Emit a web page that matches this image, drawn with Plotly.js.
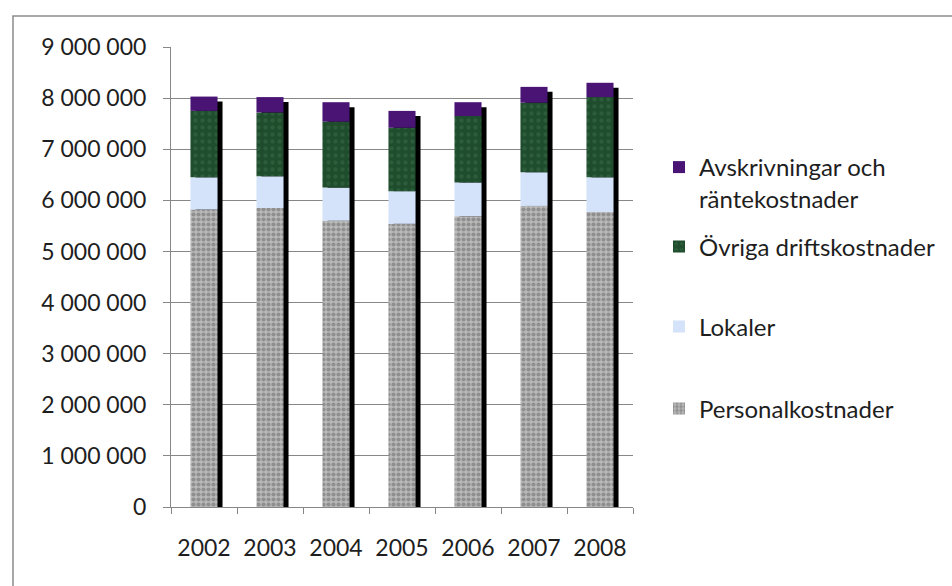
<!DOCTYPE html>
<html>
<head>
<meta charset="utf-8">
<script src="https://cdn.plot.ly/plotly-3.0.1.min.js"></script>
<style>
  html, body { margin: 0; padding: 0; background: #ffffff; }
  #chart { width: 952px; height: 586px; }
</style>
</head>
<body>
<div id="chart"></div>
<script>
// Kostnader per år (kr)
const years = ['2002', '2003', '2004', '2005', '2006', '2007', '2008'];
const personalkostnader = [5820000, 5850000, 5600000, 5540000, 5690000, 5890000, 5770000];
const lokaler = [630000, 620000, 650000, 640000, 660000, 660000, 680000];
const ovrigaDrift = [1300000, 1250000, 1290000, 1240000, 1300000, 1360000, 1570000];
const avskrivningar = [280000, 300000, 380000, 330000, 270000, 310000, 280000];

const seriesNames = ['Personalkostnader', 'Lokaler', 'Övriga driftskostnader', 'Avskrivningar och<br>räntekostnader'];

// Plot area geometry (px)
const W = 952, H = 586;
const M = { l: 171, r: 319, t: 47, b: 79 };
const plotW = W - M.l - M.r;
const plotH = H - M.t - M.b;
const yMax = 9000000;

const barWidth = 0.41;
const shadowDx = 5 / (plotW / years.length);   // category units
const shadowDy = 5 / plotH * yMax;              // value units

const FONT = 'Lato, "Open Sans", sans-serif';
const TXT = '#1e1e1e';
const GRID = '#878787';

// stacked bases
const stackOrder = [personalkostnader, lokaler, ovrigaDrift, avskrivningar];
const bases = [];
let running = years.map(() => 0);
stackOrder.forEach(s => {
  bases.push(running.slice());
  running = running.map((v, i) => v + s[i]);
});
const totals = running;

const styles = [
  { color: '#b9b9b9', pattern: { shape: '.', fgcolor: '#666666', size: 5, solidity: 0.55, fillmode: 'overlay' } },
  { color: '#d4e2fa', pattern: { shape: '' } },
  { color: '#1e4c2c', pattern: { shape: '.', fgcolor: '#3a6b48', size: 7, solidity: 0.3, fillmode: 'overlay' } },
  { color: '#4a1474', pattern: { shape: '' } }
];
const legendIds = ['legend4', 'legend3', 'legend2', 'legend'];

const traces = [];

// drop shadow behind each column
traces.push({
  type: 'bar',
  x: years,
  y: totals.map(v => v - shadowDy),
  base: years.map(() => 0),
  width: barWidth,
  offset: -barWidth / 2 + shadowDx,
  marker: { color: '#000000', line: { width: 0 } },
  showlegend: false,
  hoverinfo: 'skip'
});

stackOrder.forEach((s, k) => {
  traces.push({
    type: 'bar',
    name: seriesNames[k],
    x: years,
    y: s,
    base: bases[k],
    width: barWidth,
    offset: -barWidth / 2,
    marker: { color: styles[k].color, pattern: styles[k].pattern, line: { width: 0 } },
    legend: legendIds[k]
  });
});

const toPaperX = px => (px - M.l) / plotW;
const toPaperY = py => (H - M.b - py) / plotH;

function legendAt(py) {
  return {
    x: toPaperX(659),
    xanchor: 'left',
    y: toPaperY(py),
    yanchor: 'middle',
    valign: 'top',
    bgcolor: 'rgba(0,0,0,0)',
    font: { family: FONT, size: 24, color: TXT }
  };
}

const layout = {
  width: W,
  height: H,
  margin: M,
  paper_bgcolor: '#ffffff',
  plot_bgcolor: '#ffffff',
  barmode: 'overlay',
  separators: ', ',
  font: { family: FONT, size: 23, color: TXT },
  xaxis: {
    type: 'category',
    range: [-0.5, years.length - 0.5],
    showline: true,
    linecolor: GRID,
    linewidth: 1,
    ticks: 'outside',
    tickson: 'boundaries',
    ticklen: 6,
    tickcolor: GRID,
    ticklabelstandoff: 20,
    showgrid: false,
    tickfont: { family: FONT, size: 23, color: TXT },
    fixedrange: true
  },
  yaxis: {
    range: [0, yMax],
    dtick: 1000000,
    tickformat: ',d',
    showgrid: true,
    gridcolor: GRID,
    gridwidth: 1,
    zeroline: false,
    showline: true,
    linecolor: GRID,
    linewidth: 1,
    ticks: 'outside',
    ticklen: 7,
    tickcolor: GRID,
    ticklabelstandoff: 12,
    tickfont: { family: FONT, size: 23, color: TXT },
    fixedrange: true
  },
  legend: legendAt(183),
  legend2: legendAt(247),
  legend3: legendAt(327),
  legend4: legendAt(409),
  shapes: [{
    type: 'rect',
    xref: 'paper', yref: 'paper',
    x0: toPaperX(13), x1: toPaperX(W + 10),
    y0: toPaperY(H + 10), y1: toPaperY(16),
    line: { color: '#8c8c8c', width: 1.5 },
    fillcolor: 'rgba(0,0,0,0)',
    layer: 'below'
  }]
};

Plotly.newPlot('chart', traces, layout, { displayModeBar: false, staticPlot: true });
</script>
</body>
</html>
